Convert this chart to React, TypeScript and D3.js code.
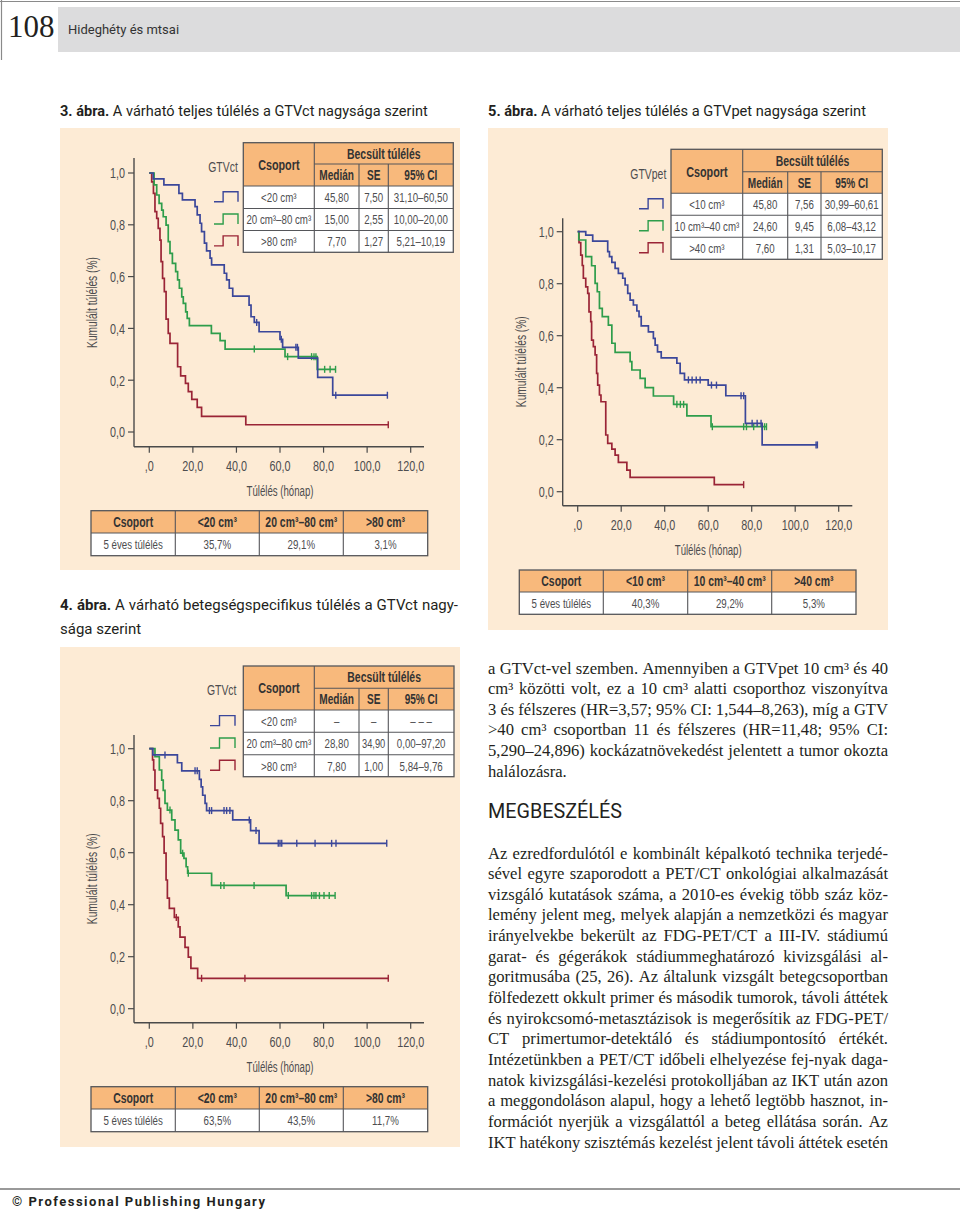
import React from "react";
import * as d3 from "d3";

// ---------------- DATA ----------------
const xTicks = [0, 20, 40, 60, 80, 100, 120];
const xTickLabels = [",0", "20,0", "40,0", "60,0", "80,0", "100,0", "120,0"];
const yTicks = [0, 0.2, 0.4, 0.6, 0.8, 1];
const yTickLabels = ["0,0", "0,2", "0,4", "0,6", "0,8", "1,0"];
const seriesColors = ["#3b479a", "#2e9d4b", "#9a2436"];
const tableHead = ["Csoport", "Becsült túlélés", "Medián", "SE", "95% CI"];
const fiveYearLabel = "5 éves túlélés";
const xAxisLabel = "Túlélés (hónap)";
const yAxisLabel = "Kumulált túlélés (%)";

// Figure 3 – overall survival by GTVct
const f3Title = ["3. ábra.", "A várható teljes túlélés a GTVct nagysága szerint"];
const f3Groups = ["<20 cm³", "20 cm³–80 cm³", ">80 cm³"];
const f3Median = ["45,80", "15,00", "7,70"];
const f3SE = ["7,50", "2,55", "1,27"];
const f3CI = ["31,10–60,50", "10,00–20,00", "5,21–10,19"];
const f3FiveYear = ["35,7%", "29,1%", "3,1%"];
const f3BlueTimes = [1.8, 6.7, 13.6, 15.2, 21, 22, 23.3, 24, 25.3, 26.3, 27.9, 28.6, 34.4, 35.5, 36.7, 38.3, 45.8, 46.7, 48.2, 50.4, 60, 61.2, 68.4, 77.3, 84.2];
const f3BlueSurv = [0.977, 0.954, 0.921, 0.896, 0.87, 0.838, 0.806, 0.774, 0.729, 0.699, 0.671, 0.645, 0.613, 0.587, 0.555, 0.525, 0.49, 0.445, 0.423, 0.387, 0.358, 0.327, 0.285, 0.211, 0.142];
const f3BlueCensor = [49.3, 60.6, 67.3, 68.0, 85.6, 109.3];
const f3GreenTimes = [2.2, 3.4, 4.5, 5.7, 6.4, 7.7, 8.7, 9.5, 10.6, 12.1, 13, 13.8, 14.9, 15.6, 16.7, 17.4, 18.4, 28.5, 32.5, 34.8, 62.3, 77.1];
const f3GreenSurv = [0.954, 0.915, 0.883, 0.857, 0.831, 0.799, 0.735, 0.69, 0.651, 0.619, 0.587, 0.555, 0.522, 0.497, 0.464, 0.439, 0.411, 0.381, 0.353, 0.32, 0.291, 0.242];
const f3GreenCensor = [48.2, 63.5, 74.5, 75.6, 76.5, 80.5, 83, 85.5];
const f3RedTimes = [1.1, 1.9, 2.6, 3.4, 4.1, 4.9, 5.4, 6.1, 6.9, 7.7, 8.7, 9.5, 13.0, 14.4, 16.6, 17.9, 19.5, 22.0, 24.0, 44.3];
const f3RedSurv = [0.966, 0.921, 0.851, 0.825, 0.786, 0.741, 0.658, 0.593, 0.542, 0.436, 0.381, 0.342, 0.252, 0.217, 0.188, 0.156, 0.126, 0.095, 0.06, 0.028];
const f3RedCensor = [109.7];

// Figure 5 – overall survival by GTVpet
const f5Title = ["5. ábra.", "A várható teljes túlélés a GTVpet nagysága szerint"];
const f5Groups = ["<10 cm³", "10 cm³–40 cm³", ">40 cm³"];
const f5Median = ["45,80", "24,60", "7,60"];
const f5SE = ["7,56", "9,45", "1,31"];
const f5CI = ["30,99–60,61", "6,08–43,12", "5,03–10,17"];
const f5FiveYear = ["40,3%", "29,2%", "5,3%"];
const f5BlueTimes = [3.7, 6.9, 13.8, 14.6, 15.7, 17.2, 18.7, 20.7, 21.8, 23.0, 24.1, 25.6, 27.2, 28.2, 29.2, 32.5, 34.8, 35.6, 36.7, 38.4, 45.6, 47.1, 49.1, 60.0, 68.1, 77.1, 84.8];
const f5BlueSurv = [0.987, 0.964, 0.923, 0.904, 0.882, 0.859, 0.84, 0.821, 0.795, 0.763, 0.737, 0.718, 0.695, 0.673, 0.638, 0.615, 0.59, 0.564, 0.538, 0.515, 0.494, 0.455, 0.43, 0.41, 0.369, 0.263, 0.18];
const f5BlueCensor = [50.9, 52.6, 54.5, 56.3, 61.5, 63.8, 75.1, 76.3, 80.2, 82.5, 84.3, 109.6, 110.2];
const f5GreenTimes = [0.5, 3.7, 6.4, 8.0, 9.0, 10.0, 11.3, 14.1, 15.7, 17.2, 24.1, 24.9, 28.7, 31.0, 34.8, 44.1, 50.2, 61.3];
const f5GreenSurv = [0.968, 0.904, 0.869, 0.801, 0.769, 0.705, 0.673, 0.641, 0.571, 0.536, 0.5, 0.468, 0.436, 0.4, 0.368, 0.336, 0.292, 0.25];
const f5GreenCensor = [45.6, 47.2, 48.7, 61.9, 76.3, 77.6, 80.9, 84.8, 85.9, 86.8];
const f5RedTimes = [0.6, 1.4, 2.1, 2.6, 3.7, 4.6, 5.2, 6.0, 6.4, 7.2, 8.0, 8.7, 9.2, 10.0, 10.7, 12.9, 13.8, 15.7, 17.2, 18.7, 22.6, 24.1, 62.8];
const f5RedSurv = [0.958, 0.91, 0.87, 0.821, 0.788, 0.763, 0.692, 0.654, 0.583, 0.558, 0.526, 0.455, 0.41, 0.372, 0.346, 0.218, 0.186, 0.164, 0.141, 0.113, 0.083, 0.055, 0.027];
const f5RedCensor = [76.3];

// Figure 4 – disease-specific survival by GTVct
const f4Title1 = "4. ábra. A várható betegségspecifikus túlélés a GTVct nagy-";
const f4Title2 = "sága szerint";
const f4Groups = ["<20 cm³", "20 cm³–80 cm³", ">80 cm³"];
const f4Median = ["–", "28,80", "7,80"];
const f4SE = ["–", "34,90", "1,00"];
const f4CI = ["– – –", "0,00–97,20", "5,84–9,76"];
const f4FiveYear = ["63,5%", "43,5%", "11,7%"];
const f4BlueTimes = [1.6, 12.9, 14.9, 23.0, 23.8, 24.5, 25.6, 26.3, 38.3, 46.5, 50.4];
const f4BlueSurv = [0.976, 0.946, 0.915, 0.882, 0.853, 0.821, 0.79, 0.762, 0.726, 0.685, 0.636];
const f4BlueCensor = [7.2, 21.0, 22.0, 27.6, 28.6, 34.3, 35.5, 37.0, 45.9, 49.0, 59.2, 60.0, 60.8, 67.7, 76.1, 83.7, 85.7, 109.0];
const f4GreenTimes = [2.6, 4.6, 5.7, 6.4, 7.2, 8.3, 10.3, 11.8, 13.3, 14.4, 15.9, 16.9, 17.6, 28.6, 62.8];
const f4GreenSurv = [0.969, 0.918, 0.879, 0.84, 0.79, 0.764, 0.726, 0.687, 0.649, 0.598, 0.578, 0.546, 0.521, 0.474, 0.435];
const f4GreenCensor = [9.5, 15.3, 17.9, 32.8, 34.3, 48.1, 63.8, 74.5, 75.6, 76.5, 78.1, 80.2, 82.6, 85.3];
const f4RedTimes = [1.5, 2.0, 2.6, 3.8, 4.6, 5.2, 6.1, 6.8, 7.7, 8.3, 9.2, 11.5, 13.3, 14.1, 16.4, 17.9, 19.1, 22.2];
const f4RedSurv = [0.957, 0.918, 0.841, 0.809, 0.771, 0.713, 0.662, 0.598, 0.495, 0.425, 0.386, 0.351, 0.315, 0.275, 0.236, 0.198, 0.155, 0.117];
const f4RedCensor = [12.4, 24.0, 43.9, 109.7];

// Body text
const para1 = [
  "a GTVct-vel szemben. Amennyiben a GTVpet 10 cm³ és 40",
  "cm³ közötti volt, ez a 10 cm³ alatti csoporthoz viszonyítva",
  "3 és félszeres (HR=3,57; 95% CI: 1,544–8,263), míg a GTV",
  ">40 cm³ csoportban 11 és félszeres (HR=11,48; 95% CI:",
  "5,290–24,896) kockázatnövekedést jelentett a tumor okozta",
  "halálozásra.",
];
const heading = "MEGBESZÉLÉS";
const para2 = [
  "Az ezredfordulótól e kombinált képalkotó technika terjedé-",
  "sével egyre szaporodott a PET/CT onkológiai alkalmazását",
  "vizsgáló kutatások száma, a 2010-es évekig több száz köz-",
  "lemény jelent meg, melyek alapján a nemzetközi és magyar",
  "irányelvekbe bekerült az FDG-PET/CT a III-IV. stádiumú",
  "garat- és gégerákok stádiummeghatározó kivizsgálási al-",
  "goritmusába (25, 26). Az általunk vizsgált betegcsoportban",
  "fölfedezett okkult primer és második tumorok, távoli áttétek",
  "és nyirokcsomó-metasztázisok is megerősítik az FDG-PET/",
  "CT primertumor-detektáló és stádiumpontosító értékét.",
  "Intézetünkben a PET/CT időbeli elhelyezése fej-nyak daga-",
  "natok kivizsgálási-kezelési protokolljában az IKT után azon",
  "a meggondoláson alapul, hogy a lehető legtöbb hasznot, in-",
  "formációt nyerjük a vizsgálattól a beteg ellátása során. Az",
  "IKT hatékony szisztémás kezelést jelent távoli áttétek esetén",
];
const pageNumber = "108";
const runningHead = "Hideghéty és mtsai";
const footer = "© Professional Publishing Hungary";

// ---------------- STYLE ----------------
const NFAM = "'Liberation Sans', Arial, sans-serif";
const SX = 0.72; // horizontal condensation for the chart font
const SERIF = "'Liberation Serif', 'DejaVu Serif', serif";
const SANS = "Roboto, 'Open Sans', sans-serif";
const PANEL = "#fdebd5";
const ORANGE = "#f8b97c";
const BORDER = "#55565a";
const AXIS = "#4a4a4a";
const TXT = "#4d4d4f";

let ctx: CanvasRenderingContext2D | null = null;
function measure(text: string, font: string): number {
  if (!ctx) ctx = document.createElement("canvas").getContext("2d");
  if (!ctx) return text.length * 7;
  ctx.font = font;
  return ctx.measureText(text).width;
}
function fitSize(text: string, family: string, weight: string, target: number): number {
  const w = measure(text, `${weight} 20px ${family}`);
  return (20 * target) / w;
}

type Series = { times: number[]; surv: number[]; censor: number[]; color: string };

// condensed chart text
function NText(props: {
  x: number; y: number; text: string; size: number; weight?: string; anchor?: string;
  fill?: string; maxW?: number; rotate?: boolean;
}) {
  const { x, y, text, size, weight = "normal", anchor = "middle", fill = TXT, maxW, rotate } = props;
  const w = measure(text, `${weight} ${size}px ${NFAM}`) * SX;
  const s = maxW && w > maxW ? (SX * maxW) / w : SX;
  return (
    <text
      transform={`translate(${x},${y})${rotate ? " rotate(-90)" : ""} scale(${s},1)`}
      dy="0.36em"
      textAnchor={anchor}
      fontSize={size}
      fontWeight={weight}
      fontFamily={NFAM}
      fill={fill}
    >
      {text}
    </text>
  );
}

function JustLine(props: {
  words: string[]; boldN?: number; x: number; y: number; width: number; size: number;
  family: string; justify: boolean; fill?: string;
}) {
  const { words, boldN = 0, x, y, width, size, family, justify, fill = "#231f20" } = props;
  const fonts = words.map((_, i) => `${i < boldN ? "bold" : "normal"} ${size}px ${family}`);
  const ws = words.map((w, i) => measure(w, fonts[i]));
  const space = measure(" ", `normal ${size}px ${family}`);
  const gap = justify && words.length > 1 ? (width - d3.sum(ws)) / (words.length - 1) : space;
  let cx = x;
  return (
    <text y={y} fontSize={size} fontFamily={family} fill={fill}>
      {words.map((w, i) => {
        const el = (
          <tspan key={i} x={cx} fontWeight={i < boldN ? "bold" : "normal"}>
            {w}
          </tspan>
        );
        cx += ws[i] + gap;
        return el;
      })}
    </text>
  );
}

function KMPlot(props: {
  x0: number; x120: number; y0: number; y1: number; axisX: number; axisTop: number;
  axisY: number; axisRight: number; series: Series[];
}) {
  const { x0, x120, y0, y1, axisX, axisTop, axisY, axisRight, series } = props;
  const x = d3.scaleLinear().domain([0, 120]).range([x0, x120]);
  const y = d3.scaleLinear().domain([0, 1]).range([y0, y1]);
  const survAt = (s: Series, t: number) => {
    let v = 1;
    s.times.forEach((tt, i) => { if (tt <= t) v = s.surv[i]; });
    return v;
  };
  const path = (s: Series) => {
    const end = Math.max(s.times[s.times.length - 1], d3.max(s.censor) ?? 0);
    let d = `M${x(0)},${y(1)}`;
    s.times.forEach((t, i) => { d += `H${x(t)}V${y(s.surv[i])}`; });
    d += `H${x(end)}`;
    return d;
  };
  const order = [2, 1, 0];
  return (
    <g>
      <line x1={axisX} x2={axisX} y1={axisTop} y2={axisY} stroke={AXIS} strokeWidth={1.4} />
      <line x1={axisX} x2={axisRight} y1={axisY} y2={axisY} stroke={AXIS} strokeWidth={1.4} />
      {yTicks.map((v, i) => (
        <g key={"y" + i}>
          <line x1={axisX - 6} x2={axisX} y1={y(v)} y2={y(v)} stroke={AXIS} strokeWidth={1.2} />
          <NText x={axisX - 9} y={y(v)} text={yTickLabels[i]} size={15} anchor="end" />
        </g>
      ))}
      {xTicks.map((v, i) => (
        <g key={"x" + i}>
          <line x1={x(v)} x2={x(v)} y1={axisY} y2={axisY + 6} stroke={AXIS} strokeWidth={1.2} />
          <NText x={x(v)} y={axisY + 19} text={xTickLabels[i]} size={15} />
        </g>
      ))}
      <NText x={(x0 + x120) / 2} y={axisY + 44} text={xAxisLabel} size={15} maxW={67} />
      <NText x={axisX - 42} y={y(0.5)} text={yAxisLabel} size={14.5} maxW={91} rotate />
      {order.map((k) => {
        const s = series[k];
        return (
          <g key={"s" + k}>
            <path d={path(s)} fill="none" stroke={s.color} strokeWidth={1.7} />
            {s.censor.map((c, j) => (
              <line key={j} x1={x(c)} x2={x(c)} y1={y(survAt(s, c)) - 3.5} y2={y(survAt(s, c)) + 3.5} stroke={s.color} strokeWidth={1.4} />
            ))}
          </g>
        );
      })}
    </g>
  );
}

function CellText(props: { x: number; y: number; w: number; text: string; bold?: boolean; size: number }) {
  const { x, y, w, text, bold, size } = props;
  return <NText x={x} y={y} text={text} size={size} weight={bold ? "bold" : "normal"} maxW={w - 6} fill={bold ? "#333" : TXT} />;
}

function LegendTable(props: {
  cols: number[]; rows: number[]; label: string; labelX: number; symX: [number, number];
  groups: string[]; median: string[]; se: string[]; ci: string[];
}) {
  const { cols, rows, label, labelX, symX, groups, median, se, ci } = props;
  const [c0, c1, c2, c3, c4] = cols;
  const [r0, r1, r2] = rows;
  const cells = [groups, median, se, ci];
  return (
    <g>
      <rect x={c0} y={r0} width={c4 - c0} height={r2 - r0} fill={ORANGE} />
      <rect x={c0} y={r2} width={c4 - c0} height={rows[5] - r2} fill="#ffffff" />
      <CellText x={(c0 + c1) / 2} y={(r0 + r2) / 2} w={c1 - c0} text={tableHead[0]} bold size={15} />
      <CellText x={(c1 + c4) / 2} y={(r0 + r1) / 2} w={c4 - c1} text={tableHead[1]} bold size={14.5} />
      <CellText x={(c1 + c2) / 2} y={(r1 + r2) / 2} w={c2 - c1} text={tableHead[2]} bold size={14} />
      <CellText x={(c2 + c3) / 2} y={(r1 + r2) / 2} w={c3 - c2} text={tableHead[3]} bold size={14} />
      <CellText x={(c3 + c4) / 2} y={(r1 + r2) / 2} w={c4 - c3} text={tableHead[4]} bold size={14} />
      {[0, 1, 2].map((i) => {
        const ya = rows[i + 2], yb = rows[i + 3], cy = (ya + yb) / 2;
        const bx = symX[0], mx = symX[0] + (symX[1] - symX[0]) * 0.38, ex = symX[1];
        return (
          <g key={i}>
            {cells.map((col, j) => (
              <CellText key={j} x={(cols[j] + cols[j + 1]) / 2} y={cy} w={cols[j + 1] - cols[j]} text={col[i]} size={13.5} />
            ))}
            <path d={`M${bx},${cy + 4.5}H${mx}V${cy - 5.5}H${ex}V${cy + 4.5}`} fill="none" stroke={seriesColors[i]} strokeWidth={1.4} />
          </g>
        );
      })}
      <rect x={c0} y={r0} width={c4 - c0} height={rows[5] - r0} fill="none" stroke={BORDER} strokeWidth={1.3} />
      <line x1={c1} x2={c4} y1={r1} y2={r1} stroke={BORDER} strokeWidth={1.1} />
      {[2, 3, 4].map((k) => (
        <line key={k} x1={c0} x2={c4} y1={rows[k]} y2={rows[k]} stroke={BORDER} strokeWidth={1.1} />
      ))}
      <line x1={c1} x2={c1} y1={r0} y2={rows[5]} stroke={BORDER} strokeWidth={1.1} />
      <line x1={c2} x2={c2} y1={r1} y2={rows[5]} stroke={BORDER} strokeWidth={1.1} />
      <line x1={c3} x2={c3} y1={r1} y2={rows[5]} stroke={BORDER} strokeWidth={1.1} />
      <NText x={labelX} y={(r0 + r2) / 2 + 2} text={label} size={14.5} />
    </g>
  );
}

function FiveYearTable(props: { cols: number[]; rows: number[]; groups: string[]; values: string[] }) {
  const { cols, rows, groups, values } = props;
  const head = [tableHead[0], ...groups];
  const body = [fiveYearLabel, ...values];
  return (
    <g>
      <rect x={cols[0]} y={rows[0]} width={cols[4] - cols[0]} height={rows[1] - rows[0]} fill={ORANGE} />
      <rect x={cols[0]} y={rows[1]} width={cols[4] - cols[0]} height={rows[2] - rows[1]} fill="#ffffff" />
      {head.map((h, j) => (
        <CellText key={"h" + j} x={(cols[j] + cols[j + 1]) / 2} y={(rows[0] + rows[1]) / 2} w={cols[j + 1] - cols[j]} text={h} bold size={14.5} />
      ))}
      {body.map((b, j) => (
        <CellText key={"b" + j} x={(cols[j] + cols[j + 1]) / 2} y={(rows[1] + rows[2]) / 2} w={cols[j + 1] - cols[j]} text={b} size={13.5} />
      ))}
      <rect x={cols[0]} y={rows[0]} width={cols[4] - cols[0]} height={rows[2] - rows[0]} fill="none" stroke={BORDER} strokeWidth={1.3} />
      <line x1={cols[0]} x2={cols[4]} y1={rows[1]} y2={rows[1]} stroke={BORDER} strokeWidth={1.1} />
      {[1, 2, 3].map((k) => (
        <line key={k} x1={cols[k]} x2={cols[k]} y1={rows[0]} y2={rows[2]} stroke={BORDER} strokeWidth={1.1} />
      ))}
    </g>
  );
}

function Caption(props: { parts: string[]; x: number; y: number; width: number }) {
  const { parts, x, y, width } = props;
  const full = parts.join(" ");
  const size = fitSize(full, SANS, "normal", width);
  const bw = measure(parts[0] + " ", `bold ${size}px ${SANS}`);
  return (
    <text y={y} fontSize={size} fontFamily={SANS} fill="#231f20">
      <tspan x={x} fontWeight="bold">{parts[0]}</tspan>
      <tspan x={x + bw}>{parts[1]}</tspan>
    </text>
  );
}

export default function App() {
  const f3Series: Series[] = [
    { times: f3BlueTimes, surv: f3BlueSurv, censor: f3BlueCensor, color: seriesColors[0] },
    { times: f3GreenTimes, surv: f3GreenSurv, censor: f3GreenCensor, color: seriesColors[1] },
    { times: f3RedTimes, surv: f3RedSurv, censor: f3RedCensor, color: seriesColors[2] },
  ];
  const f5Series: Series[] = [
    { times: f5BlueTimes, surv: f5BlueSurv, censor: f5BlueCensor, color: seriesColors[0] },
    { times: f5GreenTimes, surv: f5GreenSurv, censor: f5GreenCensor, color: seriesColors[1] },
    { times: f5RedTimes, surv: f5RedSurv, censor: f5RedCensor, color: seriesColors[2] },
  ];
  const f4Series: Series[] = [
    { times: f4BlueTimes, surv: f4BlueSurv, censor: f4BlueCensor, color: seriesColors[0] },
    { times: f4GreenTimes, surv: f4GreenSurv, censor: f4GreenCensor, color: seriesColors[1] },
    { times: f4RedTimes, surv: f4RedSurv, censor: f4RedCensor, color: seriesColors[2] },
  ];
  // body font size: largest that lets every justified line fit with ~3.2px word gaps
  const allLines = [...para1.slice(0, -1), ...para2];
  const bodySize = Math.min(
    16.6,
    d3.min(allLines, (l) => {
      const words = l.split(" ");
      const w20 = d3.sum(words, (w) => measure(w, `normal 20px ${SERIF}`));
      return (20 * (400 - 3.2 * (words.length - 1))) / w20;
    }) ?? 15.5
  );
  const lh = 20.65;
  return (
    <div style={{ position: "absolute", left: 0, top: 0 }}>
      <svg width={960} height={1217} style={{ display: "block", background: "#ffffff" }}>
        {/* header */}
        <line x1={0} x2={960} y1={1.5} y2={1.5} stroke="#8a8a8a" strokeWidth={1.2} />
        <line x1={1.5} x2={1.5} y1={0} y2={60} stroke="#8a8a8a" strokeWidth={1.2} />
        <rect x={58} y={7} width={902} height={45} fill="#dcdcdd" />
        <text x={8} y={37} fontSize={31} fontFamily={SERIF} fill="#231f20">{pageNumber}</text>
        <text x={68} y={34} fontSize={13} fontFamily={SANS} fill="#333">{runningHead}</text>

        {/* Figure 3 */}
        <Caption parts={f3Title} x={60} y={116} width={367} />
        <rect x={60} y={128} width={400} height={442} fill={PANEL} />
        <KMPlot x0={149.3} x120={410.7} y0={432} y1={173} axisX={134} axisTop={158} axisY={446.7} axisRight={424} series={f3Series} />
        <LegendTable cols={[243.3, 314.3, 359, 388.3, 453.3]} rows={[142.7, 164, 186, 208.5, 230.5, 252.3]} label="GTVct" labelX={223} symX={[214, 238]} groups={f3Groups} median={f3Median} se={f3SE} ci={f3CI} />
        <FiveYearTable cols={[91, 175.3, 259.3, 343.3, 427.7]} rows={[510.7, 533, 555.7]} groups={f3Groups} values={f3FiveYear} />

        {/* Figure 5 */}
        <Caption parts={f5Title} x={488} y={116} width={377} />
        <rect x={488} y={128} width={400} height={502} fill={PANEL} />
        <KMPlot x0={577.7} x120={838.7} y0={491.7} y1={231.7} axisX={562.7} axisTop={218.3} axisY={505.7} axisRight={852.3} series={f5Series} />
        <LegendTable cols={[671, 742.7, 787.7, 821, 882.3]} rows={[149.3, 171.7, 193.3, 215.3, 237.3, 259.3]} label="GTVpet" labelX={648.3} symX={[639, 663]} groups={f5Groups} median={f5Median} se={f5SE} ci={f5CI} />
        <FiveYearTable cols={[519.3, 603.3, 687.7, 771.7, 856]} rows={[570, 592, 614.3]} groups={f5Groups} values={f5FiveYear} />

        {/* Figure 4 */}
        <JustLine words={f4Title1.split(" ")} boldN={2} x={60} y={610} width={398} size={15} family={SANS} justify />
        <JustLine words={f4Title2.split(" ")} x={60} y={634} width={398} size={15} family={SANS} justify={false} />
        <rect x={60} y={647} width={400} height={500} fill={PANEL} />
        <KMPlot x0={149.3} x120={410.7} y0={1008.7} y1={748.7} axisX={134} axisTop={735} axisY={1022.7} axisRight={424} series={f4Series} />
        <LegendTable cols={[243.3, 314.3, 359, 388.3, 454]} rows={[666, 688.3, 710, 732.3, 754.7, 776.7]} label="GTVct" labelX={221.7} symX={[210, 235]} groups={f4Groups} median={f4Median} se={f4SE} ci={f4CI} />
        <FiveYearTable cols={[91, 175.3, 259.3, 343.3, 427.7]} rows={[1086.7, 1109, 1131.7]} groups={f4Groups} values={f4FiveYear} />

        {/* Body text */}
        {para1.map((l, i) => (
          <JustLine key={"p1" + i} words={l.split(" ")} x={488} y={673.5 + i * lh} width={400} size={bodySize} family={SERIF} justify={i < para1.length - 1} />
        ))}
        <text x={488} y={818} fontSize={fitSize(heading, SANS, "normal", 134)} fontFamily={SANS} fill="#231f20">{heading}</text>
        {para2.map((l, i) => (
          <JustLine key={"p2" + i} words={l.split(" ")} x={488} y={858.5 + i * lh} width={400} size={bodySize} family={SERIF} justify />
        ))}

        {/* footer */}
        <line x1={0} x2={960} y1={1189} y2={1189} stroke="#777" strokeWidth={1.4} />
        <text x={12} y={1206} fontSize={13} fontWeight="bold" fontFamily={SANS} letterSpacing={1.5} fill="#231f20">{footer}</text>
      </svg>
    </div>
  );
}
